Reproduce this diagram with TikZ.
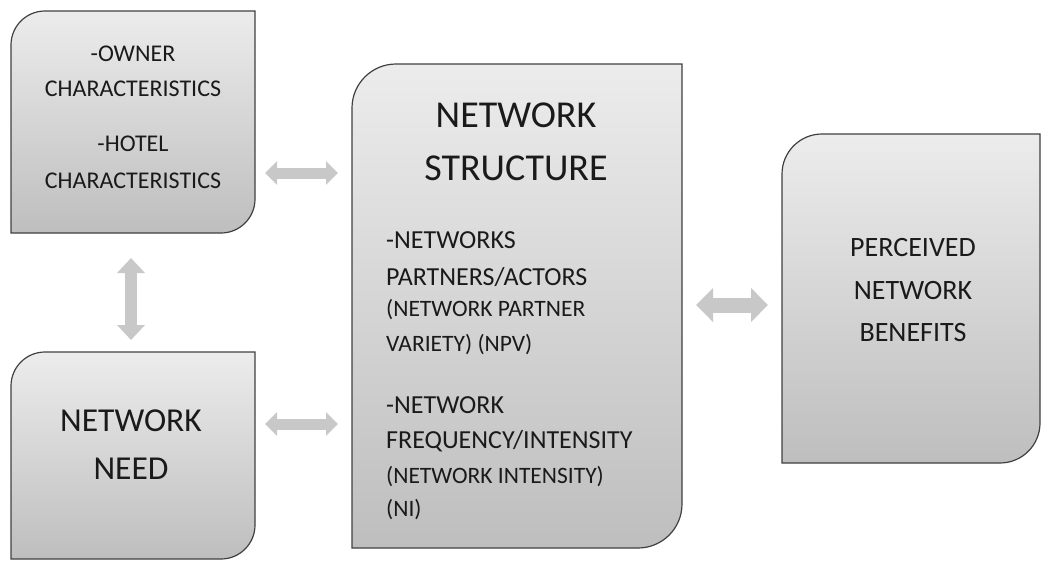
\documentclass[tikz,border=0pt]{standalone}
\usepackage{fontspec}
\setmainfont{Carlito}
\usetikzlibrary{arrows.meta,calc}
\definecolor{boxtop}{HTML}{ECECEC}
\definecolor{boxbot}{HTML}{BEBEBE}
\definecolor{boxline}{HTML}{404040}
\definecolor{arrowfill}{HTML}{C8C8C8}
\definecolor{txt}{HTML}{1A1A1A}
\newcommand\diagshape[2]{% node name, radius
  \shadedraw[top color=boxtop,bottom color=boxbot,draw=boxline,line width=1.2pt]
    let \p1=(#1.north west), \p2=(#1.south east) in
    (\x1,\y2) -- (\x1,\y1-#2) arc[start angle=180,end angle=90,radius=#2]
    -- (\x2,\y1) -- (\x2,\y2+#2) arc[start angle=0,end angle=-90,radius=#2] -- cycle;}
\begin{document}
\begin{tikzpicture}[x=1pt,y=1pt,
  area/.style={inner sep=0pt,outer sep=0pt,minimum width=#1},
  line/.style={anchor=base,inner sep=0pt,text=txt},
  barrow/.style={draw=arrowfill,line width=11pt,
    {Triangle[width=23pt,length=12pt,fill=arrowfill]}-{Triangle[width=23pt,length=12pt,fill=arrowfill]}},
  barrowbig/.style={draw=arrowfill,line width=15pt,
    {Triangle[width=33pt,length=17pt,fill=arrowfill]}-{Triangle[width=33pt,length=17pt,fill=arrowfill]}},
  barrowv/.style={draw=arrowfill,line width=12pt,
    {Triangle[width=27pt,length=15pt,fill=arrowfill]}-{Triangle[width=27pt,length=15pt,fill=arrowfill]}}]
\useasboundingbox (0,0) rectangle (1043,-560);
% box areas
\node[area=244pt,minimum height=222pt] (b1) at (133,-122) {};
\node[area=244pt,minimum height=207pt] (b2) at (133,-455.5) {};
\node[area=330pt,minimum height=484pt] (b3) at (517,-306) {};
\node[area=258pt,minimum height=329pt] (b4) at (911,-298.5) {};
\diagshape{b1}{34}
\diagshape{b2}{34}
\diagshape{b3}{44}
\diagshape{b4}{40}
% box 1 text
\begin{scope}[font=\fontsize{24}{28}\selectfont]
\node[line] (t1a) at (133,-61) {-OWNER};
\node[line] (t1b) at (133,-96) {CHARACTERISTICS};
\node[line] (t1c) at (133,-151) {-HOTEL};
\node[line] (t1d) at (133,-188) {CHARACTERISTICS};
\end{scope}
% box 2 text
\begin{scope}[font=\fontsize{33.5}{38}\selectfont]
\node[line] (t2a) at (131,-431) {NETWORK};
\node[line] (t2b) at (131,-479) {NEED};
\end{scope}
% box 3 text
\begin{scope}[font=\fontsize{38}{42}\selectfont]
\node[line] (t3a) at (516,-127) {NETWORK};
\node[line] (t3b) at (516,-180) {STRUCTURE};
\end{scope}
\begin{scope}[font=\fontsize{26}{30}\selectfont]
\node[line,anchor=base west] (t3c) at (386,-248) {-NETWORKS};
\node[line,anchor=base west] (t3d) at (386,-285) {PARTNERS/ACTORS};
\node[line,anchor=base west] (t3g) at (386,-413) {-NETWORK};
\node[line,anchor=base west] (t3h) at (386,-448) {FREQUENCY/INTENSITY};
\end{scope}
\begin{scope}[font=\fontsize{23.5}{27}\selectfont]
\node[line,anchor=base west] (t3e) at (386,-316) {(NETWORK PARTNER};
\node[line,anchor=base west] (t3f) at (386,-351) {VARIETY) (NPV)};
\node[line,anchor=base west] (t3i) at (386,-483) {(NETWORK INTENSITY)};
\node[line,anchor=base west] (t3j) at (386,-516) {(NI)};
\end{scope}
% box 4 text
\begin{scope}[font=\fontsize{28}{32}\selectfont]
\node[line] (t4a) at (913,-256) {PERCEIVED};
\node[line] (t4b) at (913,-299) {NETWORK};
\node[line] (t4c) at (913,-341) {BENEFITS};
\end{scope}
% connectors
\draw[barrow,shorten <=10pt,shorten >=14pt] (b1.east |- 0,-173) -- (b3.west |- 0,-173);
\draw[barrow,shorten <=10pt,shorten >=14pt] (b2.east |- 0,-424) -- (b3.west |- 0,-424);
\draw[barrowbig,shorten <=14pt,shorten >=14pt] (b3.east |- 0,-305) -- (b4.west |- 0,-305);
\draw[barrowv,shorten <=25pt,shorten >=12pt] (b1.south -| 131,0) -- (b2.north -| 131,0);
\end{tikzpicture}
\end{document}
